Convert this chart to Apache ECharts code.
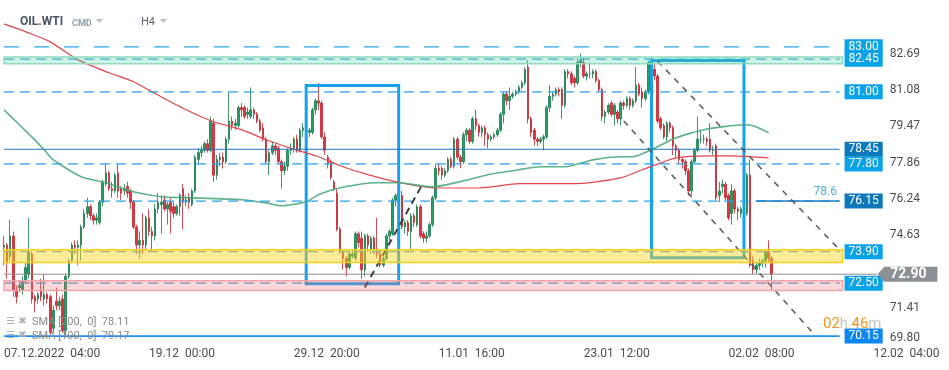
<!DOCTYPE html>
<html><head><meta charset="utf-8">
<script src="https://cdn.jsdelivr.net/npm/echarts@6/dist/echarts.min.js"></script>
<style>html,body{margin:0;padding:0;background:#fff}#c{width:949px;height:370px}</style>
</head><body><div id="c"></div>
<script>
// ---- data ----
// candle: [open, close, low, high]
const candles = [
[74.1,74.2,73.3,74.6],[74.2,73.4,72.7,74.3],[73.7,74.6,73.5,75.3],[74.6,72.2,71.9,74.8],[72.2,71.9,71.6,72.4],
[72.3,72.4,72.1,72.6],[72.2,72.6,72.0,72.8],[72.6,73.2,72.5,73.4],[72.9,73.9,72.7,75.4],[73.8,71.8,71.6,73.9],
[71.9,71.7,71.2,72.0],[71.8,72.0,71.6,72.1],[72.2,71.9,71.7,72.7],[71.8,72.0,71.5,72.9],[72.0,71.8,71.6,72.1],
[71.9,70.3,70.2,72.0],[70.5,71.3,70.3,71.5],[71.7,71.5,71.3,72.3],[71.5,71.7,71.3,71.9],[71.8,70.4,70.3,72.0],
[70.4,72.8,70.2,72.9],[72.8,73.5,72.7,73.6],[73.5,74.2,73.4,74.3],[74.2,74.1,73.8,74.4],[74.1,74.2,73.3,74.4],
[74.2,75.0,73.5,75.1],[75.0,75.6,74.9,75.8],[75.6,75.9,75.4,76.3],[75.9,75.5,75.3,76.0],[75.5,75.3,75.1,75.6],
[75.3,75.4,75.1,75.6],[75.2,76.1,75.1,76.2],[76.1,77.0,75.9,77.1],[76.9,77.4,76.8,77.8],[77.4,76.7,76.6,77.5],
[76.7,76.6,76.3,77.0],[76.6,77.3,76.5,77.4],[77.4,76.6,76.3,77.8],[76.7,76.5,76.2,76.8],[76.6,76.7,76.4,76.9],
[76.8,76.5,76.3,77.0],[76.6,76.1,75.8,76.7],[76.1,75.0,74.9,76.2],[75.0,74.2,73.8,75.1],[74.2,74.4,73.6,74.8],
[74.4,74.2,73.8,75.6],[74.2,75.4,74.0,75.5],[75.4,74.8,74.6,75.8],[74.8,74.6,73.9,75.0],[74.6,75.8,74.4,76.0],
[75.8,76.1,75.6,76.5],[76.0,76.1,74.7,76.4],[76.2,75.8,75.7,76.4],[75.8,76.0,75.1,76.1],[76.1,75.7,74.7,76.3],
[75.9,75.6,75.4,76.1],[75.6,75.9,75.5,76.0],[75.9,76.4,75.5,76.5],[76.7,76.1,74.9,76.9],[76.1,76.2,75.9,76.4],
[76.3,76.1,75.8,76.5],[76.0,76.6,75.9,76.7],[76.6,78.1,76.5,78.2],[78.0,78.3,77.8,78.5],[78.3,78.4,78.1,78.6],
[78.4,78.7,78.3,78.8],[78.7,78.4,78.3,78.9],[78.4,79.7,78.3,79.9],[79.6,77.3,77.0,79.8],[77.3,78.0,77.1,78.2],
[78.0,78.1,77.7,78.3],[78.1,77.9,77.6,78.3],[77.9,78.9,77.8,79.0],[78.9,79.7,78.7,81.0],[79.7,79.5,79.3,79.9],
[79.5,79.6,79.3,79.8],[79.5,80.3,79.4,80.4],[80.3,80.2,79.9,80.5],[80.3,79.9,79.8,80.4],[80.0,80.1,79.8,80.3],
[79.9,80.2,79.8,81.2],[80.2,80.0,79.8,80.3],[80.0,79.7,79.6,80.1],[79.7,79.3,79.2,79.8],[79.4,78.9,78.8,79.6],
[78.9,77.9,77.8,79.0],[77.9,78.3,77.3,78.4],[78.3,78.6,78.2,78.8],[78.6,78.4,78.2,78.7],[78.5,77.9,77.8,78.6],
[77.9,77.5,76.7,78.0],[77.5,77.7,77.3,77.9],[77.7,78.4,77.5,78.5],[78.4,78.5,78.2,78.7],[78.5,78.9,78.3,79.0],
[78.9,78.4,78.3,79.1],[78.4,79.3,78.3,79.4],[79.3,79.4,79.0,79.6],[79.4,79.2,78.9,79.5],[79.2,79.3,79.0,79.4],
[79.2,80.2,79.1,80.3],[80.2,80.6,80.0,80.7],[80.6,80.5,80.2,81.4],[80.5,79.0,78.9,80.6],[79.0,78.4,78.2,79.2],
[78.1,77.8,77.6,78.2],[77.9,77.2,77.1,78.0],[77.0,76.7,76.6,77.1],[76.5,74.9,74.8,76.7],[74.9,73.9,73.8,75.0],
[73.9,73.6,73.1,74.0],[73.6,73.2,72.8,73.7],[73.2,73.8,73.1,73.9],[73.7,73.8,73.6,74.0],[73.6,74.7,73.5,74.8],
[74.7,74.3,74.1,74.8],[74.5,73.1,72.7,74.8],[73.1,74.6,72.8,74.7],[74.6,74.2,73.9,74.7],[74.0,74.5,73.8,74.6],
[74.5,74.0,73.8,74.6],[74.0,73.8,73.6,75.4],[73.8,73.3,73.2,74.0],[73.3,73.6,73.2,73.7],[73.6,74.6,73.5,74.7],
[74.6,74.8,74.4,74.9],[74.7,76.2,74.6,76.3],[76.2,76.4,75.9,76.5],[76.4,76.5,76.2,76.7],[76.4,75.0,74.9,76.6],
[75.0,75.2,74.7,75.3],[75.2,74.8,74.6,75.3],[74.8,75.5,74.0,75.6],[75.5,75.2,75.0,75.6],[75.1,75.9,75.0,76.0],
[75.9,74.6,74.5,76.0],[74.7,74.5,74.3,74.8],[74.5,74.6,74.3,74.8],[74.6,75.1,74.5,75.2],[75.1,76.3,75.0,76.4],
[76.3,77.6,76.2,77.8],[77.6,77.5,77.3,77.8],[77.6,77.3,77.1,77.7],[77.3,77.5,77.2,77.6],[77.5,78.0,77.4,78.1],
[78.0,77.7,77.6,78.1],[77.7,78.9,77.6,79.0],[78.9,78.1,78.0,79.0],[78.1,77.9,77.6,78.2],[77.9,79.1,77.8,79.2],
[79.1,79.3,78.8,79.4],[79.3,78.8,78.7,79.4],[78.8,79.8,78.7,79.9],[79.8,79.5,79.3,80.2],[79.5,79.2,79.0,79.6],
[79.2,79.4,79.0,79.5],[79.4,79.1,78.6,79.5],[79.1,78.9,78.5,79.2],[78.9,79.0,78.8,79.1],[79.0,79.1,78.9,79.2],
[79.1,79.3,79.0,79.4],[79.3,80.0,79.2,80.1],[80.0,80.9,79.6,81.0],[80.9,80.6,80.4,81.0],[80.6,80.8,80.2,81.2],
[80.8,80.9,80.7,81.0],[80.9,81.0,80.8,81.1],[81.0,81.2,80.9,81.3],[81.2,81.4,81.1,81.5],[81.4,82.0,81.3,82.1],
[82.1,79.8,79.6,82.4],[79.8,79.2,79.0,79.9],[79.3,78.9,78.6,79.4],[78.9,78.8,78.6,79.0],[78.8,78.9,78.7,79.0],
[78.9,79.0,78.4,79.1],[79.0,80.3,78.9,80.4],[80.3,80.8,80.1,81.3],[80.8,80.9,80.6,81.0],[80.9,81.1,80.8,81.2],
[81.1,81.0,80.8,81.2],[81.1,80.4,79.8,81.2],[80.4,81.9,80.3,82.0],[81.9,81.8,81.6,82.0],[81.8,81.4,81.3,81.9],
[81.6,81.4,81.2,81.7],[81.4,82.3,81.3,82.5],[82.3,82.4,82.1,82.7],[82.3,81.7,81.6,82.5],[81.7,81.8,81.5,81.9],
[81.8,81.8,81.6,82.3],[81.8,81.9,81.6,82.0],[81.9,81.5,81.4,82.0],[81.5,81.1,81.0,81.6],[81.1,79.9,79.7,81.2],
[79.9,80.1,79.6,80.2],[80.1,80.4,80.0,80.5],[80.5,80.0,79.9,80.6],[80.0,80.4,79.5,80.5],[80.1,79.8,79.6,80.2],
[79.8,80.5,79.5,80.6],[80.5,80.4,80.2,80.6],[80.4,80.7,80.3,80.8],[80.7,80.4,80.2,80.8],[80.4,80.6,80.3,80.7],
[80.6,81.3,80.5,82.1],[81.3,80.9,80.8,81.4],[81.0,80.7,80.3,81.2],[80.7,81.0,80.6,81.1],[81.0,82.3,80.9,82.4],
[82.3,81.5,81.4,82.5],[82.0,81.7,81.5,82.3],[81.7,79.7,79.6,81.8],[79.8,79.4,79.3,79.9],[79.5,79.0,78.9,79.6],
[79.0,79.6,78.8,79.7],[79.6,79.4,79.2,79.7],[79.4,78.6,78.2,79.5],[78.6,78.4,78.1,78.7],[78.4,78.0,77.8,78.5],
[78.0,77.9,77.6,78.1],[77.9,77.5,77.3,78.0],[77.5,76.6,76.4,77.6],[76.6,77.9,76.4,78.0],[77.9,78.4,77.8,78.5],
[78.4,78.9,78.3,79.9],[78.9,78.9,78.7,79.3],[78.9,78.9,78.7,79.1],[78.9,78.8,78.6,79.0],[78.9,78.4,78.3,79.6],
[78.4,78.4,78.2,78.6],[78.6,76.3,76.2,78.7],[76.4,76.6,76.1,77.0],[76.8,76.9,76.5,77.1],[76.9,76.3,76.2,77.0],
[76.4,75.4,75.3,76.5],[75.6,76.6,75.1,76.9],[76.6,75.8,75.6,76.7],[75.8,75.7,75.3,75.9],[75.6,75.8,75.4,75.9],
[75.8,75.6,75.5,75.9],[75.6,77.3,75.5,77.4],[77.3,73.3,73.2,78.0],[73.5,73.1,72.9,73.7],[73.1,73.3,72.9,73.4],
[73.3,73.4,73.1,73.6],[73.4,73.5,73.2,73.6],[73.5,73.9,73.2,74.0],[73.9,73.6,73.4,74.4],[73.6,72.9,72.2,73.7]
];
// moving averages: [slot index, value]
const sma200 = [[0,84.02],[8,83.62],[15,83.22],[24,82.42],[34,81.85],[42,81.45],[48,81.00],[57,80.34],[68,79.67],[77,79.32],[85,78.87],[94,78.45],[102,78.12],[109,77.72],[118,77.32],[128,76.98],[140,76.73],[154,76.73],[167,76.92],[186,76.92],[200,77.18],[207,77.54],[218,78.07],[229,78.16],[236,78.16],[248,78.07]];
const sma100 = [[0,80.2],[9,79.0],[13,78.43],[16,77.98],[25,77.23],[33,76.96],[42,76.56],[51,76.34],[59,76.30],[77,76.21],[85,76.07],[90,75.94],[98,76.12],[102,76.43],[109,76.74],[120,76.96],[128,76.96],[139,76.78],[148,77.01],[157,77.32],[167,77.54],[174,77.67],[182,77.67],[191,77.98],[200,78.12],[204,78.12],[210,78.43],[218,78.96],[227,79.32],[240,79.54],[243,79.49],[248,79.18]];
const sma200Value = 78.11;
const sma100Value = 79.17;
const tickIndex = [0,47,94,141,188,235,282];
const tickLabels = ['07.12.2022  04:00','19.12  00:00','29.12  20:00','11.01  16:00','23.01  12:00','02.02  08:00','12.02  04:00'];
const slotCount = 307;
const levelValues = [83.00,82.45,81.00,78.45,77.80,76.15,73.90,72.50,70.15];
const levelEndSlot = 271;
const currentPrice = 72.90;
const currentTagSlot = 293;
const currentLineEnd = 283;
const fibLabel = '78.6';
const fibValue = 76.15;
const fibStartSlot = 244;
const zones = [[82.25,82.55],[73.42,73.99],[72.18,72.61]];
const boxes = [[98,128,72.48,81.28],[210,240,73.63,82.39]];
const trendUp = [[117,72.31],[136,76.96]];
const channelUpper = [[212,82.36],[271,73.99]];
const channelLower = [[201,79.71],[263,70.19]];
const yMin = 69.80, yStep = 1.6112, yMax = 85.08;

// ---- styles ----
const LIGHT = '#0aa3ea', DARK = '#0c78bc', BRIGHT = '#0b86f2';
const levelStyles = [
  {type:[15,15], color:'#2aa2e6', width:1.2, bg:LIGHT},
  {type:[10,6], color:'#3aa6e2', width:1.2, bg:LIGHT},
  {type:[10,6], color:'#2aa2e6', width:1.2, bg:LIGHT},
  {type:'solid', color:'#1f76bd', width:1, bg:DARK},
  {type:[10,6], color:'#2aa2e6', width:1.2, bg:LIGHT},
  {type:[10,6], color:'#2aa2e6', width:1.2, bg:DARK},
  {type:[10,6], color:'#4a9fd8', width:1.2, bg:LIGHT},
  {type:[10,6], color:'#4a9fd8', width:1.2, bg:LIGHT},
  {type:'solid', color:'#1e8ff0', width:1.6, bg:BRIGHT}
];
const zoneStyles = [
  {fill:'rgba(70,205,150,0.26)', border:'#90dcc0'},
  {fill:'rgba(252,212,30,0.45)', border:'#f6cf1c'},
  {fill:'rgba(240,110,115,0.26)', border:'#f2a5a8'}
];

const categories = [];
for (let i = 0; i < slotCount; i++) categories.push(String(i));

function hLine(v, startSlot, endSlot, style, endLabel, z) {
  return {
    type:'line', data:[[startSlot, v], [endSlot, v]], z:z, silent:true, symbol:'none', showSymbol:false,
    color:style.color, emphasis:{disabled:true},
    lineStyle:{type:style.type, color:style.color, width:style.width},
    endLabel:endLabel
  };
}
const levelSeriesList = levelValues.map((v, k) => {
  const s = levelStyles[k];
  return hLine(v, 0, levelEndSlot, s, {show:true, distance:5, formatter:v.toFixed(2),
    backgroundColor:s.bg, color:'#fff', fontFamily:'Roboto', fontSize:12, padding:[2,4,1,4], lineHeight:12}, 4);
});

const chart = echarts.init(document.getElementById('c'), null, {renderer:'canvas'});
chart.setOption({
  animation:false,
  backgroundColor:'#fff',
  grid:{left:2.5, right:0, top:0, bottom:26},
  xAxis:{
    type:'category', data:categories, boundaryGap:true,
    axisLine:{show:false}, axisTick:{show:false}, splitLine:{show:false},
    axisLabel:{
      interval:(i) => tickIndex.indexOf(i) >= 0,
      formatter:(v, i) => { const k = tickIndex.indexOf(i); return k >= 0 ? tickLabels[k] : ''; },
      align:'left', margin:4, color:'#4d4d4d', fontFamily:'Roboto', fontSize:12
    }
  },
  yAxis:{
    type:'value', position:'right', min:yMin, max:yMax, interval:yStep, scale:true,
    axisLine:{show:false}, axisTick:{show:false}, splitLine:{show:false},
    axisLabel:{inside:true, margin:29, color:'#4d4d4d', fontFamily:'Roboto', fontSize:12,
      showMaxLabel:false, verticalAlignMinLabel:'bottom',
      formatter:(v) => (v > 83.5 || Math.abs(v - currentPrice) < 0.3) ? '' : v.toFixed(2)}
  },
  series:[
    {
      type:'candlestick', data:candles, barWidth:2, z:2,
      itemStyle:{color:'#22a065', color0:'#e63540', borderColor:'#177a48', borderColor0:'#c0232d', borderWidth:0.8}
    },
    {type:'line', name:'SMA200', data:sma200, symbol:'none', smooth:0.2, z:3, color:'#e2464a',
      lineStyle:{color:'#e2464a', width:1.2}},
    {type:'line', name:'SMA100', data:sma100, symbol:'none', smooth:0.2, z:3, color:'#4aaa7e',
      lineStyle:{color:'#4aaa7e', width:1.6, opacity:0.9}},
    {type:'line', name:'boxes', data:[], z:3,
      markArea:{silent:true, z:3, animation:false,
        itemStyle:{color:'rgba(0,0,0,0)', borderColor:'#16a1ec', borderWidth:3},
        data:boxes.map(b => [{coord:[b[0], b[3]]}, {coord:[b[1], b[2]]}])}},
    ...levelSeriesList,
    hLine(currentPrice, 0, currentLineEnd, {type:'solid', color:'#8e8e8e', width:1}, {show:false}, 4),
    hLine(fibValue, fibStartSlot, levelEndSlot, {type:'solid', color:'#1a7fc4', width:1.6},
      {show:true, formatter:fibLabel, color:'#4cb0ea', fontFamily:'Roboto', fontSize:12, distance:0, offset:[-26,-9]}, 4),
    {type:'line', name:'currentTag', data:[], z:10,
      markPoint:{silent:true, z:10, animation:false,
        data:[{coord:[currentTagSlot,currentPrice], value:currentPrice}],
        symbol:'path://M0,7L7,0L60,0L60,14L7,14Z', symbolSize:[60,15], symbolKeepAspect:false,
        itemStyle:{color:'#8a9095'},
        label:{show:true, position:'inside', offset:[1,0], formatter:currentPrice.toFixed(2), color:'#fff', fontWeight:'bold', fontFamily:'Roboto', fontSize:14}
      }},
    {type:'line', name:'trendUp', data:trendUp, z:5, symbol:'none', silent:true, color:'#3a3f44',
      lineStyle:{type:[7,5], color:'#3a3f44', width:2}},
    {type:'line', name:'channelUpper', data:channelUpper, z:5, symbol:'none', silent:true, color:'#55595d',
      lineStyle:{type:[6,6], color:'#55595d', width:1.5}},
    {type:'line', name:'channelLower', data:channelLower, z:5, symbol:'none', silent:true, color:'#55595d',
      lineStyle:{type:[6,6], color:'#55595d', width:1.5}},
    {type:'line', name:'zones', data:[], z:6,
      markArea:{silent:true, z:6, animation:false,
        data:zones.map((zn, k) => [{coord:[0, zn[1]], itemStyle:{color:zoneStyles[k].fill, borderColor:zoneStyles[k].border, borderWidth:1.5}}, {coord:[levelEndSlot+1, zn[0]]}])}}
  ],
  graphic:[
    {type:'text', left:20, top:16, z:100, style:{text:'OIL.WTI', font:'bold 12px Roboto', fill:'#4a5663'}},
    {type:'text', left:72, top:19, z:100, style:{text:'CMD', font:'bold 9px Roboto', fill:'#8d9cab'}},
    {type:'polygon', z:100, shape:{points:[[96,19],[103,19],[99.5,23]]}, style:{fill:'#b8c0c8'}},
    {type:'text', left:141, top:17, z:100, style:{text:'H4', font:'11px Roboto', fill:'#5a6570'}},
    {type:'polygon', z:100, shape:{points:[[160,19],[167,19],[163.5,23]]}, style:{fill:'#b8c0c8'}},
    {type:'text', left:6, top:316, z:100, style:{text:'☰ ✖', font:'10px DejaVu Sans', fill:'#b0b0b0'}},
    {type:'text', left:32, top:317, z:100, style:{text:'SMA [200,  0]  ' + sma200Value.toFixed(2), font:'11px Roboto', fill:'#8a8a8a'}},
    {type:'text', left:6, top:330, z:100, style:{text:'☰ ✖', font:'10px DejaVu Sans', fill:'#b0b0b0'}},
    {type:'text', left:32, top:331, z:100, style:{text:'SMA [100,  0]  ' + sma100Value.toFixed(2), font:'11px Roboto', fill:'#8a8a8a'}},
    {type:'text', left:823, top:317, z:100, style:{
      text:'{o|02}{g|h} {o|46}{g|m}',
      rich:{o:{fill:'#f7941d', font:'15px Roboto'}, g:{fill:'#c4c4c4', font:'15px Roboto'}}}}
  ]
});
</script></body></html>
